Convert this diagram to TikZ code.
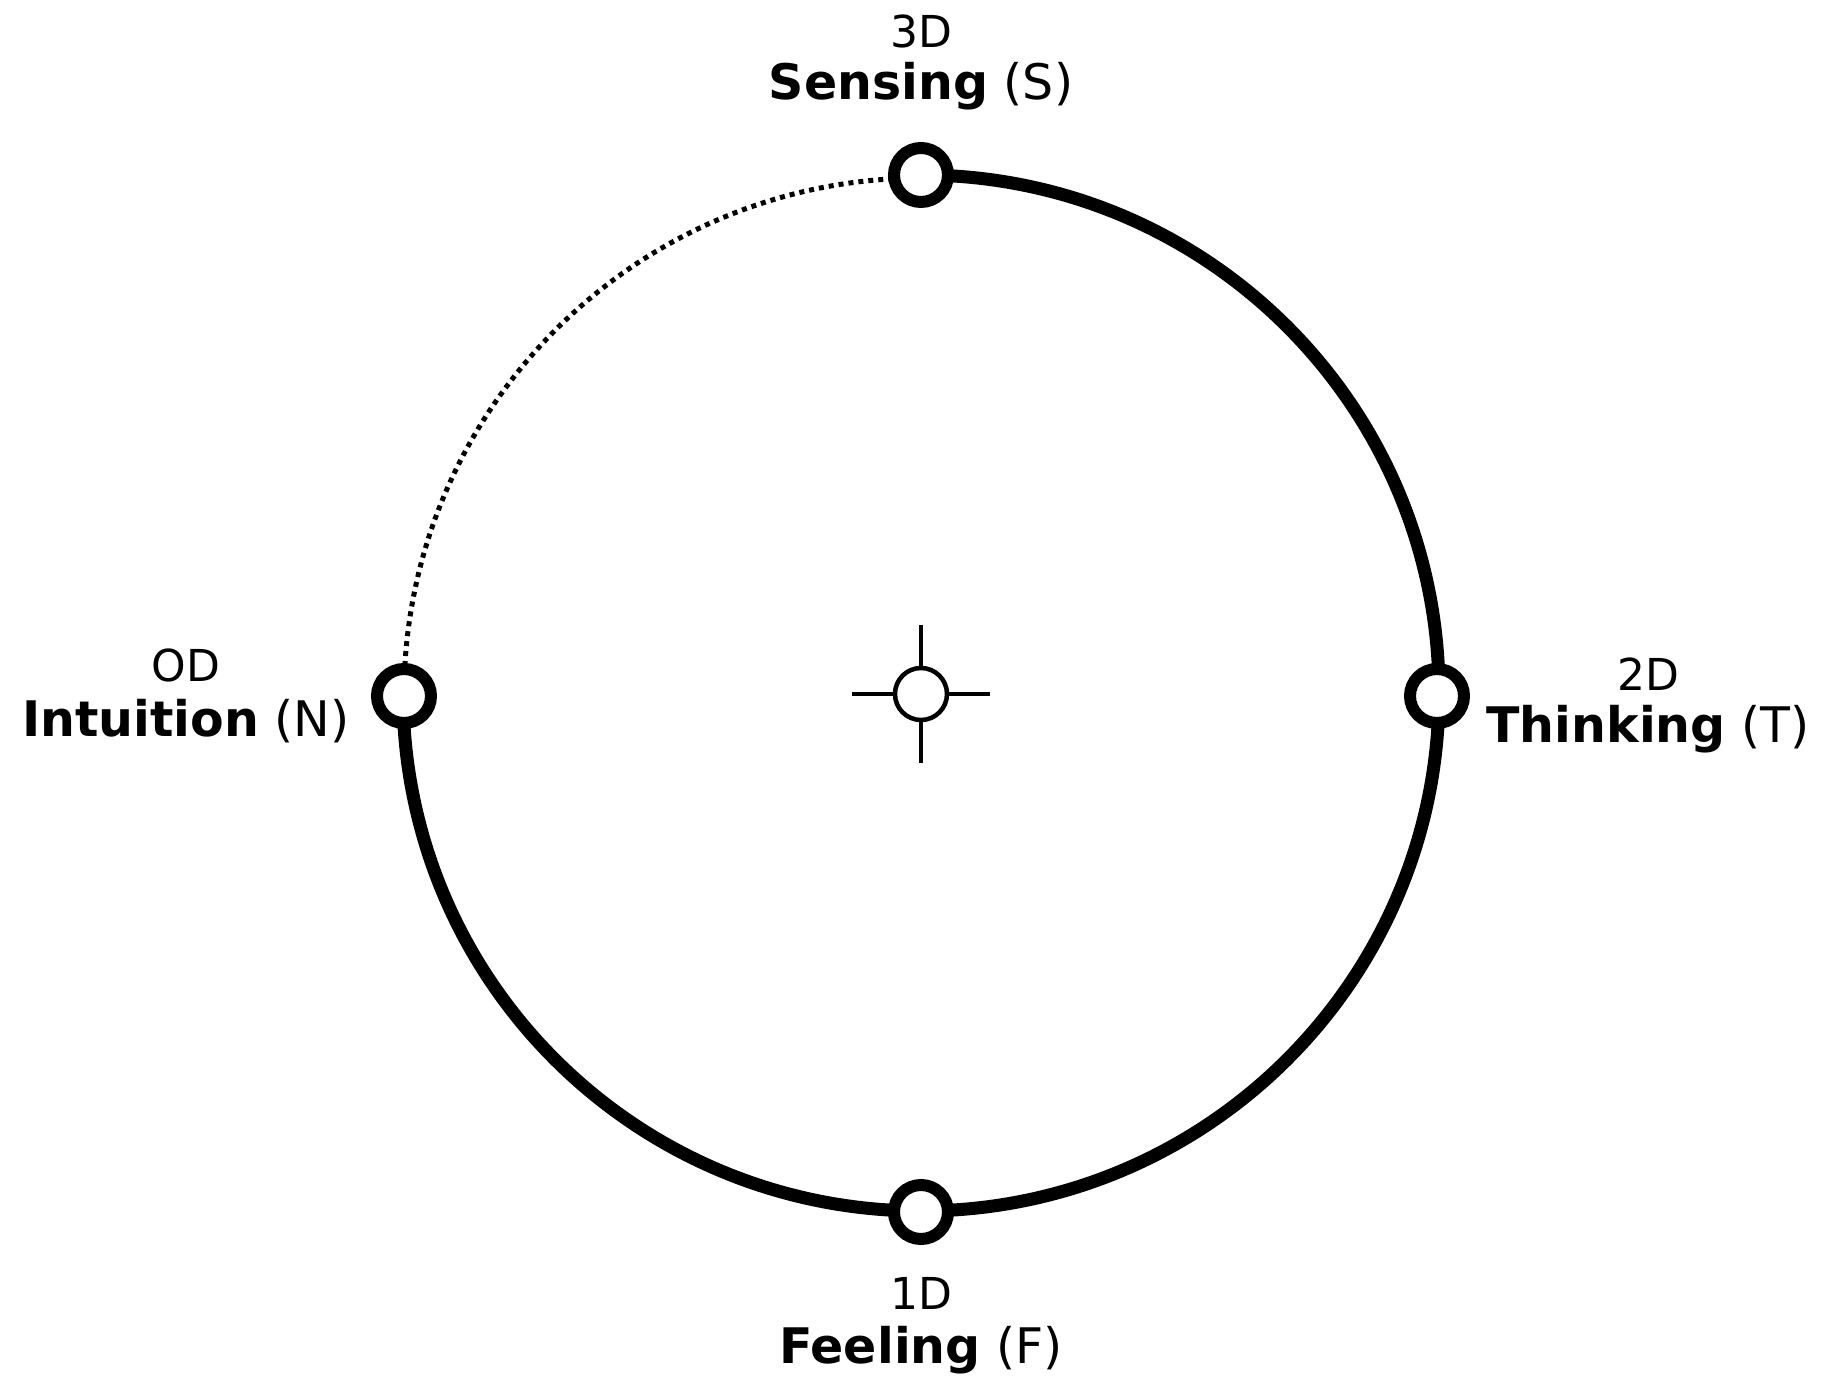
\documentclass[tikz,border=0pt]{standalone}
\usepackage{fontspec}
\setmainfont{DejaVu Sans}
\usetikzlibrary{backgrounds}
\begin{document}
\begin{tikzpicture}[x=1pt,y=1pt,
  pole/.style={circle,draw=black,fill=white,line width=12pt,minimum size=54pt,inner sep=0pt},
  hub/.style={circle,draw=black,fill=white,line width=4.5pt,minimum size=52pt,inner sep=0pt},
  ring/.style={line width=13pt},
  dots/.style={line width=5pt,dash pattern=on 5pt off 5pt},
  tick/.style={line width=4.5pt},
  lbl/.style={font=\fontsize{44}{52}\selectfont,inner sep=0pt,anchor=center},
  fname/.style={font=\fontsize{49}{58}\selectfont,inner sep=0pt,anchor=center}]
\useasboundingbox (-921,-687) rectangle (900,694);
\node[hub] (C) at (0,0) {};
\node[pole] (S) at (0,519) {};
\node[pole] (T) at (516,-2) {};
\node[pole] (F) at (0,-518) {};
\node[pole] (N) at (-517,-2) {};
\coordinate (cu) at (0,69);
\coordinate (cd) at (0,-69);
\coordinate (cl) at (-69,0);
\coordinate (cr) at (69,0);
\draw[tick] (C.north) -- (cu);
\draw[tick] (C.south) -- (cd);
\draw[tick] (C.west) -- (cl);
\draw[tick] (C.east) -- (cr);
\begin{pgfonlayer}{background}
\draw[ring] (S.center) arc[start angle=90,end angle=-180,radius=518];
\draw[dots] (N.center) arc[start angle=180,end angle=90,radius=518];
\end{pgfonlayer}
\node[lbl] (s1) at (0,663) {3D};
\node[fname] (s2) at (0,608) {\textbf{Sensing} (S)};
\node[lbl] (n1) at (-735,29) {OD};
\node[fname] (n2) at (-735,-27) {\textbf{Intuition} (N)};
\node[lbl] (t1) at (727,20) {2D};
\node[fname] (t2) at (727,-35) {\textbf{Thinking} (T)};
\node[lbl] (f1) at (0,-599) {1D};
\node[fname] (f2) at (0,-656) {\textbf{Feeling} (F)};
\end{tikzpicture}
\end{document}
